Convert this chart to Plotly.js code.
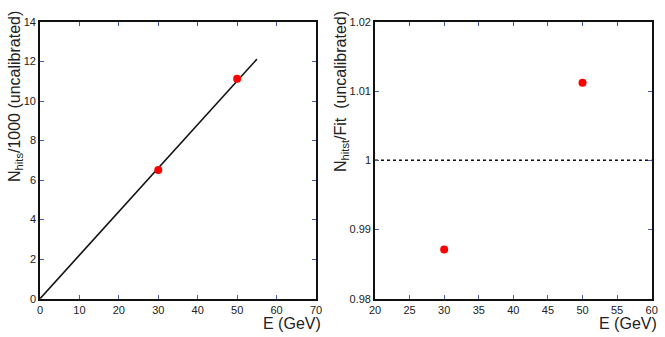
<!DOCTYPE html>
<html>
<head>
<meta charset="utf-8">
<script src="https://cdn.plot.ly/plotly-3.0.1.min.js"></script>
<style>html,body{margin:0;padding:0;background:#fff;}#chart{width:665px;height:337px;}</style>
</head>
<body>
<div id="chart"></div>
<script>
// Data
const energies = [30, 50];
const nhits = [6.51, 11.13];
const fitX = [0, 55];
const fitY = [0, 12.12];
const ratio = [0.9871, 1.0112];
const refX = [20, 60];
const refY = [1, 1];

const FONT = "Liberation Sans, Arial, Helvetica, sans-serif";
const tickColor = "#4a5aa8";

const traces = [
  {x: fitX, y: fitY, mode: "lines", line: {color: "#111", width: 1.6}, xaxis: "x", yaxis: "y", hoverinfo: "skip"},
  {x: energies, y: nhits, mode: "markers", marker: {color: "#ff0000", size: 8}, xaxis: "x", yaxis: "y"},
  {x: refX, y: refY, mode: "lines", line: {color: "#111", width: 1.5, dash: "3px,3px"}, xaxis: "x2", yaxis: "y2", hoverinfo: "skip"},
  {x: energies, y: ratio, mode: "markers", marker: {color: "#ff0000", size: 8}, xaxis: "x2", yaxis: "y2"}
];

const axisCommon = {
  showgrid: false, zeroline: false, showline: true, linecolor: "#111", linewidth: 1.8,
  mirror: "ticks", ticks: "inside", ticklen: 4, tickwidth: 1, tickcolor: tickColor,
  tickfont: {family: FONT, size: 11, color: "#222"}
};

const layout = {
  width: 665, height: 337,
  margin: {l: 0, r: 0, t: 0, b: 0},
  paper_bgcolor: "#fff", plot_bgcolor: "#fff",
  showlegend: false,
  xaxis: Object.assign({}, axisCommon, {domain: [40/665, 316/665], range: [0, 70], dtick: 10, anchor: "y"}),
  yaxis: Object.assign({}, axisCommon, {domain: [1-298.7/337, 1-22/337], range: [0, 14], dtick: 2, anchor: "x"}),
  xaxis2: Object.assign({}, axisCommon, {domain: [375/665, 651.7/665], range: [20, 60], dtick: 5, anchor: "y2"}),
  yaxis2: Object.assign({}, axisCommon, {domain: [1-298.7/337, 1-22/337], range: [0.98, 1.02], dtick: 0.01, anchor: "x2", tickformat: "~g"}),
  annotations: [
    {text: "E (GeV)", xref: "paper", yref: "paper", x: 323/665, y: 1-323/337, xanchor: "right", yanchor: "middle", showarrow: false, font: {family: FONT, size: 16, color: "#222"}},
    {text: "E (GeV)", xref: "paper", yref: "paper", x: 659/665, y: 1-323/337, xanchor: "right", yanchor: "middle", showarrow: false, font: {family: FONT, size: 16, color: "#222"}},
    {text: "N<sub>hits</sub>/1000 (uncalibrated)", xref: "paper", yref: "paper", x: 15/665, y: 1-97/337, xanchor: "center", yanchor: "middle", textangle: -90, showarrow: false, font: {family: FONT, size: 16, color: "#222"}},
    {text: "N<sub>hitst</sub>/Fit  (uncalibrated)", xref: "paper", yref: "paper", x: 341/665, y: 1-92/337, xanchor: "center", yanchor: "middle", textangle: -90, showarrow: false, font: {family: FONT, size: 16, color: "#222"}}
  ]
};

Plotly.newPlot("chart", traces, layout, {displayModeBar: false, staticPlot: true});
</script>
</body>
</html>
